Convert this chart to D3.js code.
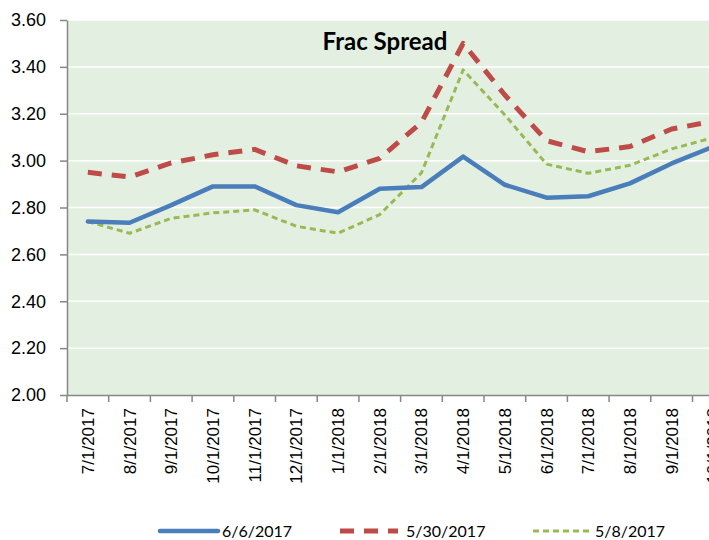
<!DOCTYPE html>
<html>
<head>
<meta charset="utf-8">
<script src="https://cdn.jsdelivr.net/npm/d3@7"></script>
<style>
  body { margin: 0; background: #fff; }
  svg { display: block; font-family: Lato, "Open Sans", sans-serif; }
</style>
</head>
<body>
<div id="chart"></div>
<script>
// categories (last one is cut off by the window edge)
var months = ["7/1/2017", "8/1/2017", "9/1/2017", "10/1/2017", "11/1/2017", "12/1/2017",
  "1/1/2018", "2/1/2018", "3/1/2018", "4/1/2018", "5/1/2018", "6/1/2018",
  "7/1/2018", "8/1/2018", "9/1/2018", "10/1/2018"];

var s0606 = [2.74, 2.735, 2.81, 2.89, 2.89, 2.81, 2.78, 2.88, 2.887, 3.017, 2.897, 2.842, 2.848, 2.903, 2.988, 3.06];
var s0530 = [2.95, 2.93, 2.99, 3.025, 3.048, 2.978, 2.952, 3.01, 3.163, 3.50, 3.28, 3.085, 3.038, 3.06, 3.135, 3.168];
var s0508 = [2.74, 2.69, 2.754, 2.777, 2.79, 2.72, 2.69, 2.77, 2.948, 3.387, 3.195, 2.985, 2.946, 2.98, 3.05, 3.098];

var yTicks = [2.00, 2.20, 2.40, 2.60, 2.80, 3.00, 3.20, 3.40, 3.60];

var series = [
  { name: "6/6/2017", values: s0606, color: "#4A7EBB", width: 4.5, dash: null },
  { name: "5/30/2017", values: s0530, color: "#BE4B48", width: 5, dash: "14,10" },
  { name: "5/8/2017", values: s0508, color: "#98B954", width: 3, dash: "6,4" }
];

var W = 709, H = 540;
var plotLeft = 67, plotTop = 20, plotBottom = 395;
var bandW = 41.7;
var plotRight = plotLeft + bandW * months.length;

var svg = d3.select("#chart").append("svg").attr("width", W).attr("height", H);

var x = d3.scaleBand().domain(months).range([plotLeft, plotRight]).padding(0);
var y = d3.scaleLinear().domain([2, 3.6]).range([plotBottom, plotTop]);

// plot background
svg.append("rect")
  .attr("x", plotLeft).attr("y", plotTop)
  .attr("width", plotRight - plotLeft).attr("height", plotBottom - plotTop)
  .attr("fill", "#E3F0E1");

// gridlines
svg.append("g").selectAll("line")
  .data(yTicks.slice(1))
  .enter().append("line")
  .attr("x1", plotLeft).attr("x2", plotRight)
  .attr("y1", function (d) { return y(d); })
  .attr("y2", function (d) { return y(d); })
  .attr("stroke", "#fff").attr("stroke-width", 1.5);

// y axis
var yAxis = svg.append("g")
  .attr("transform", "translate(" + plotLeft + ",0)")
  .call(d3.axisLeft(y).tickValues(yTicks).tickFormat(d3.format(".2f")).tickSize(7).tickPadding(14).tickSizeOuter(0));
yAxis.select(".domain").attr("stroke", "#868686").attr("stroke-width", 1.5);
yAxis.selectAll(".tick line").attr("stroke", "#868686").attr("stroke-width", 1.5);
yAxis.selectAll("text")
  .style("font-size", "18px").attr("fill", "#000");

// x axis
var xAxis = svg.append("g")
  .attr("transform", "translate(0," + plotBottom + ")")
  .call(d3.axisBottom(x).tickSize(0).tickSizeOuter(0));
xAxis.select(".domain").attr("stroke", "#868686").attr("stroke-width", 1.5);
xAxis.selectAll(".tick line").remove();
xAxis.selectAll("text")
  .style("font-size", "17px").attr("fill", "#000")
  .attr("text-anchor", "end")
  .attr("transform", "rotate(-90)")
  .attr("x", -13).attr("y", 0).attr("dy", "0.35em");

// tick marks between categories
svg.append("g").selectAll("line")
  .data(months)
  .enter().append("line")
  .attr("x1", function (d) { return x(d); })
  .attr("x2", function (d) { return x(d); })
  .attr("y1", plotBottom).attr("y2", plotBottom + 7)
  .attr("stroke", "#868686").attr("stroke-width", 1.5);

// lines
var line = d3.line()
  .x(function (d, i) { return x(months[i]) + x.bandwidth() / 2; })
  .y(function (d) { return y(d); });

// draw in reverse order so blue is on top
series.slice().reverse().forEach(function (s) {
  svg.append("path")
    .datum(s.values)
    .attr("d", line)
    .attr("fill", "none")
    .attr("stroke", s.color)
    .attr("stroke-width", s.width)
    .attr("stroke-dasharray", s.dash)
    .attr("stroke-linejoin", "round")
    .attr("stroke-linecap", s.dash ? "butt" : "round");
});

// title
svg.append("text")
  .attr("x", 385).attr("y", 50)
  .attr("text-anchor", "middle")
  .style("font-size", "24px").style("font-weight", "bold")
  .text("Frac Spread");

// legend
var legendX = [160, 340, 533];
var leg = svg.append("g").selectAll("g")
  .data(series)
  .enter().append("g")
  .attr("transform", function (d, i) { return "translate(" + legendX[i] + ",531)"; });
leg.append("line")
  .attr("x1", 0).attr("x2", 58)
  .attr("stroke", function (d) { return d.color; })
  .attr("stroke-width", function (d) { return d.width; })
  .attr("stroke-dasharray", function (d) { return d.dash; })
  .attr("stroke-linecap", function (d) { return d.dash ? "butt" : "round"; });
leg.append("text")
  .attr("x", function (d, i) { return i === 1 ? 66 : 62; })
  .attr("dy", "0.35em")
  .style("font-size", "16px")
  .text(function (d) { return d.name; });
</script>
</body>
</html>
